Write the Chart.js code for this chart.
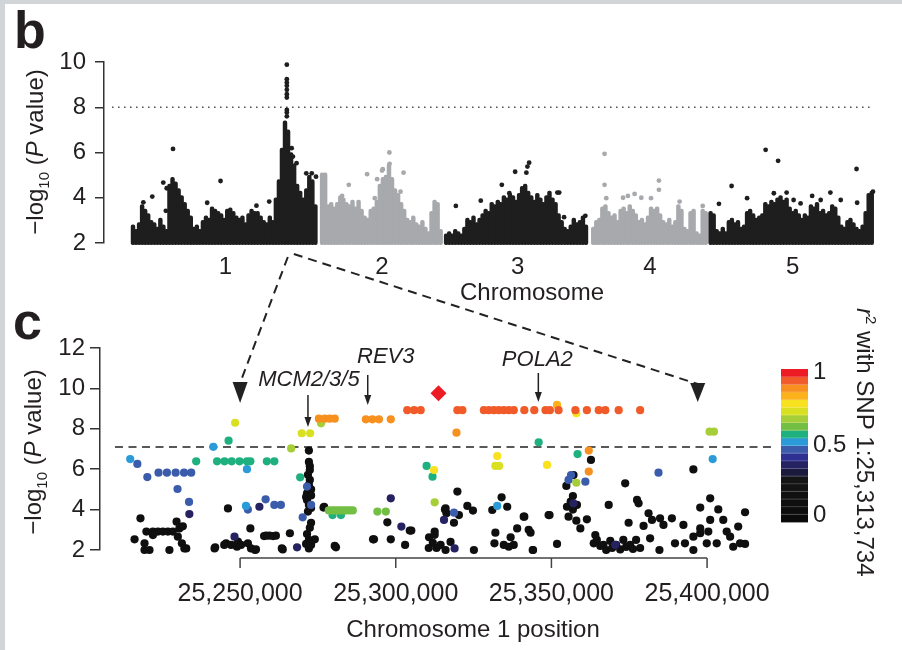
<!DOCTYPE html>
<html>
<head>
<meta charset="utf-8">
<script src="https://cdn.jsdelivr.net/npm/chart.js@4.4.1/dist/chart.umd.min.js"></script>
<style>
  html, body { margin: 0; padding: 0; background: #fff; }
  #fig { position: relative; width: 902px; height: 650px; overflow: hidden; background: #fff; }
  #fig .edge-top { position: absolute; left: 0; top: 0; width: 902px; height: 4px; background: #d1d5d8; }
  #fig .edge-left { position: absolute; left: 0; top: 0; width: 5px; height: 650px; background: #d1d5d8; }
  canvas { position: absolute; left: 0; }
  #manhattan { top: 0; }
  #region { top: 250px; }
</style>
</head>
<body>
<div id="fig">
  <div class="edge-top"></div>
  <div class="edge-left"></div>
  <canvas id="manhattan" width="902" height="305"></canvas>
  <canvas id="region" width="902" height="400"></canvas>
</div>
<script>
// ---- panel b: genome-wide scan ----
const chromNames = ['1', '2', '3', '4', '5'];
const chromLengthMb = [30.4, 19.7, 23.5, 18.6, 27.0];
const chromGapMb = 0.7;
const binMb = 0.5;
const manhattanTicks = [2, 4, 6, 8, 10];
const genomeWideLine = 8;

// upper edge of the dense band of SNPs, one value per 0.5 Mb bin
const chr1Top = [2.8, 2.6, 2.9, 3.7, 3.5, 3.3, 3.0, 2.9, 2.7, 3.1, 2.8, 2.6, 4.6, 4.9, 4.7, 4.4, 4.1, 3.8, 3.5, 3.2,
  2.7, 2.8, 2.6, 3.0, 3.2, 3.1, 3.6, 3.5, 3.4, 3.3, 3.1, 3.5, 3.55, 3.4, 3.2, 3.1, 3.2, 2.9, 3.3, 3.5,
  3.4, 3.4, 3.2, 3.0, 2.9, 3.2, 3.0, 4.0, 4.8, 6.2, 7.4, 7.0, 6.0, 5.5, 4.6, 4.3, 4.0, 4.4, 5.0, 4.8, 3.7];
const chr2Top = [5.1, 5.1, 3.7, 3.8, 3.6, 3.8, 4.1, 4.0, 3.8, 3.7, 3.9, 3.6, 3.9, 3.5, 3.2, 3.1, 3.5, 3.6, 3.9, 4.6,
  4.9, 5.0, 5.5, 4.9, 4.4, 4.2, 3.8, 3.5, 3.1, 3.0, 3.2, 2.9, 2.8, 3.0, 2.7, 2.5, 3.4, 3.9, 3.8, 2.6];
const chr3Top = [2.4, 2.5, 2.4, 2.6, 2.5, 2.4, 2.7, 3.1, 3.0, 3.2, 2.9, 3.1, 3.3, 3.5, 3.4, 3.8, 3.7, 3.9, 3.8, 4.1,
  4.0, 4.2, 4.1, 3.9, 4.2, 4.5, 4.6, 4.3, 4.1, 3.9, 4.2, 4.0, 3.8, 4.1, 4.3, 4.0, 3.8, 3.3, 3.0, 2.7,
  2.6, 2.8, 3.1, 2.9, 3.0, 3.2, 2.8];
const chr4Top = [2.7, 3.0, 3.1, 3.6, 3.7, 3.4, 3.2, 3.3, 3.0, 3.5, 3.6, 3.4, 3.7, 3.5, 3.3, 3.0, 3.1, 2.9, 3.2, 3.6,
  3.5, 3.6, 3.3, 3.0, 2.9, 3.1, 2.8, 3.0, 3.7, 3.5, 2.7, 2.6, 3.4, 3.5, 2.5, 2.4, 3.5, 3.4];
const chr5Top = [3.4, 3.3, 2.6, 2.5, 2.7, 2.5, 3.0, 3.1, 2.9, 3.0, 2.7, 2.8, 3.4, 3.5, 3.3, 3.1, 3.2, 3.3, 3.8, 3.7,
  3.9, 3.8, 4.0, 4.1, 3.9, 4.0, 3.6, 3.4, 3.5, 3.3, 3.1, 3.3, 3.2, 3.7, 3.6, 3.8, 3.4, 3.5, 3.3, 3.4,
  3.7, 3.6, 3.2, 2.8, 2.7, 3.0, 3.1, 2.9, 2.7, 2.6, 2.8, 3.4, 4.2, 4.3];

// isolated SNPs standing above the band: [Mb within chromosome, -log10 P]
const chr1Hits = [[6.58, 6.16], [14.4, 4.74], [3.17, 4.05], [4.98, 4.67], [5.54, 4.42], [12.2, 3.78], [22.4, 3.83],
  [20.3, 3.65], [26.1, 6.19], [26.3, 5.82], [26.9, 5.53], [28.5, 5.08], [29.4, 5.08], [30.1, 4.93], [1.7, 3.8],
  [5.4, 3.42], [25.3, 9.88], [25.3, 9.24], [25.3, 9.09], [25.3, 8.95], [25.3, 8.77], [25.3, 8.58], [25.3, 8.43],
  [25.3, 7.88], [25.3, 7.77], [25.3, 7.6]];
const chr2Hits = [[11.07, 6.0], [7.4, 5.04], [4.39, 4.57], [9.98, 5.26], [13.4, 5.11], [9.05, 4.82], [12.9, 4.27],
  [8.67, 3.98], [3.29, 4.08], [9.87, 5.2], [11.1, 5.5]];
const chr3Hits = [[1.6, 3.64], [5.7, 3.87], [9.16, 4.57], [11.35, 5.15], [13.2, 5.11], [13.37, 5.38], [13.65, 5.55],
  [18.3, 4.23], [19.4, 3.14], [22.9, 3.2], [10.4, 4.2], [18.6, 4.23]];
const chr4Hits = [[1.86, 5.94], [1.86, 4.57], [2.14, 3.98], [5.7, 4.08], [6.8, 4.17], [10.8, 4.76], [10.8, 4.35],
  [14.2, 3.83], [18.0, 3.64], [7.9, 4.0], [4.9, 4.0], [9.5, 3.98]];
const chr5Hits = [[9.05, 6.12], [11.1, 5.63], [24.0, 5.27], [3.45, 4.52], [6.0, 3.98], [10.4, 4.2], [12.5, 4.23],
  [16.7, 4.08], [19.7, 4.23], [24.1, 3.78], [26.7, 4.27], [1.37, 3.73], [13.65, 3.9], [14.8, 3.75], [18.1, 3.9],
  [21.4, 3.9]];

// ---- panel c: chromosome 1 region, SNPs as [position kb, -log10 P], grouped by r2 ----
const regionTicksKb = [25250, 25300, 25350, 25400];
const regionTicksY = [2, 4, 6, 8, 10, 12];
const ldLine = 7.1;
const leadSnp = [[25313.734, 9.76]];
const snpsR2_92 = [[25303.7, 8.92], [25305.9, 8.92], [25308.0, 8.92], [25319.8, 8.92], [25321.4, 8.92],
  [25328.3, 8.92], [25329.9, 8.92], [25331.5, 8.92], [25333.1, 8.92], [25334.7, 8.92], [25336.3, 8.92],
  [25337.9, 8.92], [25341.3, 8.92], [25344.5, 8.92], [25348.1, 8.92], [25349.5, 8.92], [25352.3, 8.92],
  [25357.7, 8.92], [25361.4, 8.92], [25365.2, 8.92], [25367.3, 8.92], [25371.6, 8.92], [25378.5, 8.92]];
const snpsR2_87 = [[25275.3, 8.5], [25277.2, 8.5], [25278.8, 8.5], [25280.4, 8.5], [25290.4, 8.47], [25292.5, 8.47],
  [25294.6, 8.47], [25298.4, 8.47], [25319.5, 7.81], [25362.0, 6.92], [25362.0, 5.88]];
const snpsR2_82 = [[25351.8, 9.18]];
const snpsR2_77 = [[25358.0, 8.77], [25348.6, 6.21], [25332.6, 6.65], [25312.3, 5.96]];
const snpsR2_72 = [[25248.4, 8.3], [25269.8, 7.78], [25272.5, 7.78], [25332.0, 6.16], [25333.2, 6.16]];
const snpsR2_67 = [[25266.4, 7.03], [25276.0, 8.27], [25400.8, 7.86], [25402.2, 7.86], [25358.0, 5.33], [25312.5, 4.36]];
const snpsR2_62 = [[25278.5, 3.96], [25279.5, 3.96], [25280.4, 3.96], [25281.4, 3.96], [25282.4, 3.96], [25283.3, 3.96],
  [25284.3, 3.96], [25285.3, 3.96], [25286.2, 3.96], [25294.1, 3.9], [25296.8, 3.9]];
const snpsR2_57 = [[25246.3, 7.41], [25235.9, 6.39], [25242.6, 6.39], [25245.0, 6.39], [25247.3, 6.39], [25249.8, 6.39],
  [25252.2, 6.39], [25253.3, 6.39], [25258.6, 6.39], [25261.0, 6.39], [25269.3, 5.6], [25345.9, 7.33], [25358.4, 6.75],
  [25309.9, 6.16], [25311.8, 5.63], [25279.7, 3.73], [25282.4, 3.73]];
const snpsR2_52 = [[25241.4, 7.11], [25214.7, 6.5], [25252.2, 6.0], [25251.9, 4.18], [25401.8, 6.5], [25332.6, 4.18]];
const snpsR2_47 = [[25217.0, 6.26], [25220.2, 5.61], [25223.8, 5.83], [25226.5, 5.83], [25229.3, 5.83], [25232.0, 5.83],
  [25234.3, 5.83], [25229.9, 5.02], [25233.6, 4.38], [25252.5, 4.0], [25258.2, 4.51], [25261.0, 4.23], [25263.1, 4.23],
  [25271.5, 5.14], [25272.8, 4.23], [25270.1, 3.62], [25356.3, 5.71], [25355.5, 5.47], [25360.9, 5.38],
  [25384.4, 5.83], [25318.7, 3.85]];
const snpsR2_37 = [[25233.7, 3.78], [25256.2, 4.14], [25248.2, 2.66], [25268.3, 2.13], [25357.1, 4.31], [25298.4, 4.56],
  [25301.8, 3.16], [25318.9, 2.08], [25315.5, 3.49], [25370.5, 2.25]];
const snpsR2_12 = [
  [25218.0, 3.57], [25216.1, 2.53], [25219.3, 2.33], [25220.9, 2.0], [25219.9, 2.91], [25222.0, 2.91], [25223.6, 2.91],
  [25225.2, 2.91], [25226.8, 2.91], [25228.4, 2.91], [25222.0, 2.74], [25227.3, 2.0], [25229.6, 3.4], [25230.5, 3.07],
  [25230.0, 2.66], [25231.3, 2.33], [25232.7, 2.08], [25231.6, 3.17], [25232.1, 2.08], [25219.3, 2.0],
  [25246.1, 4.06], [25242.0, 2.13], [25245.5, 2.33], [25247.1, 2.25], [25249.0, 2.16], [25249.3, 2.41], [25252.5, 2.33],
  [25253.5, 2.08], [25254.8, 2.0], [25253.3, 3.07], [25244.9, 2.25], [25250.3, 2.25], [25241.8, 2.08], [25255.1, 2.03],
  [25258.3, 2.71], [25259.4, 2.71], [25261.5, 2.71], [25257.7, 2.69], [25260.6, 2.69], [25263.4, 2.08], [25263.7, 2.03],
  [25266.0, 2.83],
  [25272.1, 6.92], [25272.1, 6.36], [25272.4, 6.15], [25272.4, 5.96], [25271.8, 5.72], [25272.4, 5.47], [25272.1, 5.22],
  [25272.8, 5.0], [25271.5, 4.81], [25271.2, 4.62], [25271.5, 4.48], [25272.8, 4.7], [25272.1, 4.23], [25272.8, 4.08],
  [25271.8, 3.9], [25272.8, 3.35], [25271.5, 2.79], [25274.0, 2.53], [25272.1, 2.5], [25272.1, 2.08], [25272.8, 2.25],
  [25271.2, 2.3], [25272.4, 3.1],
  [25277.0, 4.14], [25276.8, 4.1], [25280.4, 2.2], [25280.8, 2.13],
  [25293.0, 2.53], [25292.7, 2.53], [25297.3, 3.37], [25298.4, 2.53], [25303.0, 2.25], [25305.0, 2.96], [25304.5, 2.96],
  [25319.8, 4.89], [25316.0, 4.06], [25316.3, 3.82], [25320.3, 3.73], [25318.7, 3.35], [25312.5, 2.91], [25323.0, 4.18],
  [25324.8, 3.95], [25310.7, 2.63], [25311.9, 2.36], [25313.1, 2.1], [25314.4, 2.25], [25316.0, 2.0], [25317.6, 2.4],
  [25310.6, 2.1], [25312.5, 2.75], [25325.1, 2.0], [25315.8, 4.0],
  [25331.0, 3.98], [25334.0, 4.61], [25335.8, 4.14], [25341.1, 3.65], [25339.0, 3.07], [25332.0, 2.86], [25336.9, 2.63],
  [25331.7, 2.33], [25334.7, 2.25], [25337.9, 2.25], [25336.3, 2.16], [25344.0, 2.0], [25343.3, 2.86], [25342.7, 3.0],
  [25349.1, 3.73], [25351.8, 2.3],
  [25362.7, 6.46], [25395.6, 5.99], [25357.1, 5.71], [25354.8, 5.17], [25373.7, 5.3], [25356.9, 4.67], [25355.0, 4.14],
  [25358.2, 4.23], [25377.5, 4.48], [25378.0, 4.31], [25368.4, 4.23], [25401.0, 4.56], [25397.8, 4.1], [25403.6, 4.01],
  [25412.2, 3.87], [25341.3, 3.65], [25349.4, 3.73], [25355.5, 3.65], [25358.0, 3.45], [25361.4, 3.52], [25359.3, 3.07],
  [25381.2, 3.82], [25382.3, 3.49], [25384.9, 3.57], [25388.7, 3.57], [25386.0, 3.24], [25379.6, 3.19], [25374.8, 3.35],
  [25392.4, 3.24], [25401.0, 3.49], [25405.2, 3.49], [25397.8, 3.07], [25400.4, 2.91], [25406.3, 2.91], [25410.0, 3.16],
  [25344.1, 2.0], [25364.1, 2.74], [25363.6, 2.33], [25364.6, 2.5], [25366.7, 2.25], [25368.9, 2.45], [25370.8, 2.25],
  [25373.1, 2.5], [25375.3, 2.25], [25377.2, 2.5], [25378.5, 2.1], [25367.6, 2.0], [25372.1, 2.03], [25365.7, 2.2],
  [25369.5, 2.1], [25374.0, 2.15], [25376.2, 2.05], [25381.7, 2.58], [25384.7, 2.0], [25389.7, 2.33], [25392.9, 2.33],
  [25395.6, 2.0], [25395.6, 2.66], [25397.8, 2.83], [25399.9, 2.33], [25403.1, 2.33], [25407.4, 2.66], [25408.4, 2.16],
  [25410.6, 2.33], [25412.2, 2.3], [25356.2, 4.4], [25356.9, 4.0]];

const ldGroups = [
  { r2: 1.0, snps: leadSnp },
  { r2: 0.92, snps: snpsR2_92 },
  { r2: 0.87, snps: snpsR2_87 },
  { r2: 0.82, snps: snpsR2_82 },
  { r2: 0.77, snps: snpsR2_77 },
  { r2: 0.72, snps: snpsR2_72 },
  { r2: 0.67, snps: snpsR2_67 },
  { r2: 0.62, snps: snpsR2_62 },
  { r2: 0.57, snps: snpsR2_57 },
  { r2: 0.52, snps: snpsR2_52 },
  { r2: 0.47, snps: snpsR2_47 },
  { r2: 0.37, snps: snpsR2_37 },
  { r2: 0.12, snps: snpsR2_12 }
];
const colorbarTicks = [0, 0.5, 1];
const geneNames = ['MCM2/3/5', 'REV3', 'POLA2'];
const geneKb = [25271.8, 25291.0, 25345.8];
const zoomWindowKb = [25250, 25397];
const zoomFromMb = 25.3;

// ---- styling ----
const FONT = '"Liberation Sans", Arial, Helvetica, sans-serif';
const INK = '#231f20';
Chart.defaults.font.family = FONT;
Chart.defaults.color = INK;

// colour key in 0.05 steps of r2
const r2Colors = ['#0b0b0b', '#0d0d0d', '#0f0f0f', '#111111', '#131313', '#151515', '#1b1a3c', '#262262',
  '#2e3192', '#3b5bab', '#2a9ad8', '#1fb07f', '#72bf44', '#a6ce39', '#d9e021', '#f8e11e', '#fbb21b',
  '#f7901e', '#f15a29', '#ed1c24'];
const r2Color = r2 => r2Colors[Math.min(r2Colors.length - 1, Math.floor(r2 / 0.05 + 1e-9))];
const chromColors = ['#1e1e1e', '#a7a9ac'];

// draw a run of text pieces (sub/superscripts, italics) along a rotated baseline
function drawRich(ctx, parts, x, y, angle, align) {
  ctx.save();
  ctx.translate(x, y);
  ctx.rotate(angle);
  let total = 0;
  parts.forEach(p => { ctx.font = p.font; p.w = ctx.measureText(p.text).width; total += p.w; });
  let u = align === 'center' ? -total / 2 : 0;
  ctx.textBaseline = 'alphabetic';
  ctx.textAlign = 'left';
  ctx.fillStyle = INK;
  parts.forEach(p => { ctx.font = p.font; ctx.fillText(p.text, u, p.dy || 0); u += p.w; });
  ctx.restore();
}
const pvalueTitle = [
  { text: '\u2212log', font: '24px ' + FONT },
  { text: '10', font: '15px ' + FONT, dy: 6 },
  { text: ' (', font: '24px ' + FONT },
  { text: 'P', font: 'italic 24px ' + FONT },
  { text: ' value)', font: '24px ' + FONT }
];

function arrowHead(ctx, x, tipY, w, len) {
  ctx.beginPath();
  ctx.moveTo(x - w / 2, tipY - len);
  ctx.lineTo(x + w / 2, tipY - len);
  ctx.lineTo(x, tipY);
  ctx.closePath();
  ctx.fill();
}

// ---- panel b chart ----
const chromOffsets = [];
chromLengthMb.reduce((acc, len, i) => { chromOffsets[i] = acc; return acc + len + chromGapMb; }, 0);
const chromCenters = chromLengthMb.map((len, i) => chromOffsets[i] + len / 2);
const bandTops = [chr1Top, chr2Top, chr3Top, chr4Top, chr5Top];
const bandHits = [chr1Hits, chr2Hits, chr3Hits, chr4Hits, chr5Hits];

const hitSets = bandHits.map((pts, c) => ({
  type: 'scatter',
  data: pts.map(([mb, p]) => ({ x: chromOffsets[c] + mb, y: p })),
  backgroundColor: chromColors[c % 2],
  pointRadius: 2.4,
  borderWidth: 0,
  clip: false
}));
const bandSets = bandTops.map((tops, c) => ({
  type: 'bar',
  data: tops.map((t, i) => ({ x: chromOffsets[c] + i * binMb, y: [1.93, t] })),
  backgroundColor: chromColors[c % 2],
  barThickness: 3.8,
  borderRadius: 1.9,
  borderSkipped: false,
  grouped: false,
  clip: false
}));

const manhattanDecor = {
  id: 'manhattanDecor',
  beforeDatasetsDraw(chart) {
    const { ctx, chartArea: a, scales: { y } } = chart;
    const yy = y.getPixelForValue(genomeWideLine);
    ctx.save();
    ctx.strokeStyle = '#555';
    ctx.lineWidth = 1.6;
    ctx.setLineDash([1.6, 4.4]);
    ctx.beginPath();
    ctx.moveTo(a.left + 8, yy);
    ctx.lineTo(a.right - 10, yy);
    ctx.stroke();
    ctx.restore();
  },
  afterDraw(chart) {
    const { ctx } = chart;
    drawRich(ctx, pvalueTitle, 43, 152, -Math.PI / 2, 'center');
    drawRich(ctx, [{ text: 'Chromosome', font: '24px ' + FONT }], 532, 300, 0, 'center');
    drawRich(ctx, [{ text: 'b', font: 'bold 52px ' + FONT }], 14, 48, 0, 'left');
  }
};

const manhattanChart = new Chart(document.getElementById('manhattan'), {
  type: 'bar',
  data: { datasets: [...hitSets, ...bandSets] },
  options: {
    responsive: false,
    animation: false,
    events: [],
    layout: { padding: { top: 62, right: 22, left: 0, bottom: 0 } },
    plugins: { legend: { display: false }, tooltip: { enabled: false } },
    scales: {
      x: {
        type: 'linear',
        offset: false,
        min: -4.77,
        max: 122.86,
        grid: { display: false, drawTicks: false },
        border: { display: false },
        afterBuildTicks: s => { s.ticks = chromCenters.map(v => ({ value: v })); },
        ticks: { autoSkip: false, maxRotation: 0, padding: 10, font: { size: 24 }, callback: (v, i) => chromNames[i] },
        afterFit: s => { s.height = 62; }
      },
      y: {
        min: 2,
        max: 10,
        afterBuildTicks: s => { s.ticks = manhattanTicks.map(v => ({ value: v })); },
        ticks: { padding: 9, font: { size: 24 } },
        grid: { drawOnChartArea: false, tickLength: 9, color: '#333', lineWidth: 1.5 },
        border: { color: '#333', width: 1.5 },
        afterFit: s => { s.width = 104; }
      }
    }
  },
  plugins: [manhattanDecor]
});

// ---- panel c chart ----
const regionDecor = {
  id: 'regionDecor',
  beforeDatasetsDraw(chart) {
    const { ctx, chartArea: a, scales: { y } } = chart;
    const yy = y.getPixelForValue(ldLine);
    ctx.save();
    ctx.strokeStyle = '#222';
    ctx.lineWidth = 1.7;
    ctx.setLineDash([8, 5.5]);
    ctx.beginPath();
    ctx.moveTo(a.left + 15, yy);
    ctx.lineTo(773, yy);
    ctx.stroke();
    ctx.restore();
  },
  afterDraw(chart) {
    const { ctx, chartArea: a, scales: { x } } = chart;
    ctx.save();

    // position axis, drawn only across the labelled range
    const axY = a.bottom + 8;
    const x0 = x.getPixelForValue(regionTicksKb[0] * 1000);
    const x1 = x.getPixelForValue(regionTicksKb[regionTicksKb.length - 1] * 1000);
    ctx.strokeStyle = '#444';
    ctx.lineWidth = 1.5;
    ctx.beginPath();
    ctx.moveTo(x0, axY);
    ctx.lineTo(x1, axY);
    regionTicksKb.forEach(k => {
      const tx = x.getPixelForValue(k * 1000);
      ctx.moveTo(tx, axY);
      ctx.lineTo(tx, axY + 10);
    });
    ctx.stroke();

    // gene markers
    const marks = [{ top: 145, tip: 177, base: 136, dx: 1 }, { top: 125, tip: 155, base: 113, dx: 18 }, { top: 123, tip: 152, base: 116, dx: -1 }];
    ctx.strokeStyle = '#222';
    ctx.fillStyle = '#222';
    ctx.lineWidth = 1.5;
    geneNames.forEach((g, i) => {
      const gx = x.getPixelForValue(geneKb[i] * 1000);
      const m = marks[i];
      ctx.beginPath();
      ctx.moveTo(gx, m.top);
      ctx.lineTo(gx, m.tip - 6);
      ctx.stroke();
      arrowHead(ctx, gx, m.tip, 7, 10);
      drawRich(ctx, [{ text: g, font: 'italic 22px ' + FONT }], gx + m.dx, m.base, 0, 'center');
    });

    // zoom lines from the chromosome 1 peak above
    const sx = manhattanChart.scales.x.getPixelForValue(chromOffsets[0] + zoomFromMb);
    const lx = x.getPixelForValue(zoomWindowKb[0] * 1000);
    const rx = x.getPixelForValue(zoomWindowKb[1] * 1000);
    ctx.lineWidth = 2;
    ctx.setLineDash([9, 6]);
    ctx.beginPath();
    ctx.moveTo(sx + 1, 7);
    ctx.lineTo(lx, 133);
    ctx.moveTo(sx + 7, 4);
    ctx.lineTo(rx, 134);
    ctx.stroke();
    ctx.setLineDash([]);
    arrowHead(ctx, lx, 153, 15, 21);
    arrowHead(ctx, rx, 152, 15, 19);

    // r2 colour key
    const cb = { left: 781, right: 808, top: 119, bottom: 272 };
    const h = (cb.bottom - cb.top) / r2Colors.length;
    r2Colors.forEach((c, i) => {
      ctx.fillStyle = c;
      ctx.fillRect(cb.left, cb.bottom - (i + 1) * h, cb.right - cb.left, h + 0.4);
    });
    ctx.strokeStyle = 'rgba(255,255,255,0.35)';
    ctx.lineWidth = 0.6;
    ctx.beginPath();
    for (let i = 1; i < r2Colors.length; i++) {
      const yy = cb.bottom - i * h;
      ctx.moveTo(cb.left, yy);
      ctx.lineTo(cb.right, yy);
    }
    ctx.stroke();
    ctx.fillStyle = INK;
    ctx.font = '24px ' + FONT;
    ctx.textAlign = 'left';
    ctx.textBaseline = 'middle';
    colorbarTicks.forEach(t => {
      const yy = cb.bottom - t * (cb.bottom - cb.top);
      ctx.fillText(String(t), 813, Math.min(Math.max(yy, cb.top + 3), cb.bottom - 7));
    });
    drawRich(ctx, [
      { text: 'r', font: 'italic 24px ' + FONT },
      { text: '2', font: '15px ' + FONT, dy: -9 },
      { text: ' with SNP 1:25,313,734', font: '24px ' + FONT }
    ], 857, 58, Math.PI / 2, 'left');

    // titles and panel letter
    drawRich(ctx, pvalueTitle, 41, 202, -Math.PI / 2, 'center');
    drawRich(ctx, [{ text: 'Chromosome 1 position', font: '24px ' + FONT }], 473, 387, 0, 'center');
    drawRich(ctx, [{ text: 'c', font: 'bold 52px ' + FONT }], 13, 89, 0, 'left');
    ctx.restore();
  }
};

const regionSets = ldGroups.map(g => ({
  data: g.snps.map(([kb, p]) => ({ x: kb * 1000, y: p })),
  backgroundColor: r2Color(g.r2),
  pointRadius: g.r2 >= 1 ? 8 : 4.1,
  pointStyle: g.r2 >= 1 ? 'rectRot' : 'circle',
  borderWidth: 0,
  clip: false
}));

new Chart(document.getElementById('region'), {
  type: 'scatter',
  data: { datasets: regionSets },
  options: {
    responsive: false,
    animation: false,
    events: [],
    layout: { padding: { top: 98, right: 142, left: 0, bottom: 0 } },
    plugins: { legend: { display: false }, tooltip: { enabled: false } },
    scales: {
      x: {
        type: 'linear',
        min: 25205000,
        max: 25417000,
        grid: { display: false, drawTicks: false },
        border: { display: false },
        afterBuildTicks: s => { s.ticks = regionTicksKb.map(k => ({ value: k * 1000 })); },
        ticks: { autoSkip: false, maxRotation: 0, padding: 29, font: { size: 25 }, callback: v => v.toLocaleString('en-US') },
        afterFit: s => { s.height = 100; }
      },
      y: {
        min: 2,
        max: 12,
        afterBuildTicks: s => { s.ticks = regionTicksY.map(v => ({ value: v })); },
        ticks: { padding: 5, font: { size: 24 } },
        grid: { drawOnChartArea: false, tickLength: 10, color: '#333', lineWidth: 1.5 },
        border: { color: '#333', width: 1.5 },
        afterFit: s => { s.width = 100; }
      }
    }
  },
  plugins: [regionDecor]
});
</script>
</body>
</html>
